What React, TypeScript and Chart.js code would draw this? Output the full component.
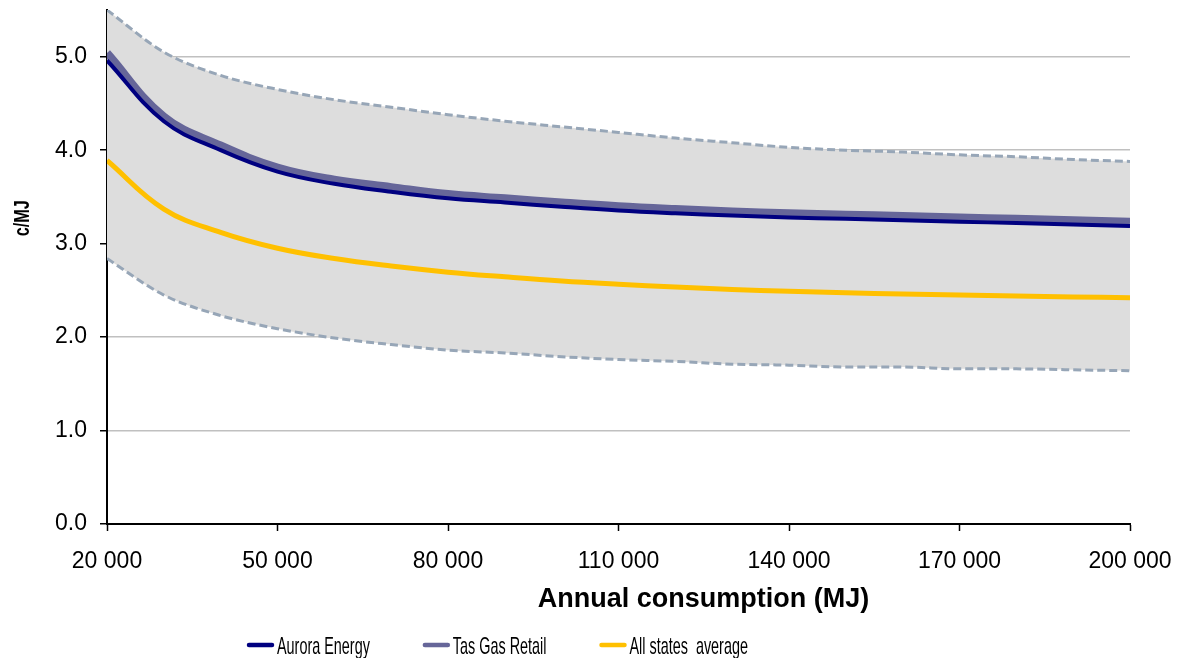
import React, { useEffect, useRef } from "react";
import { Chart, registerables } from "chart.js";

Chart.register(...registerables);

// Annual consumption (MJ)
const consumption = [
  20000, 30000, 40000, 50000, 60000, 70000, 80000, 90000, 100000, 110000,
  120000, 130000, 140000, 150000, 160000, 170000, 180000, 190000, 200000,
];
// c/MJ
const auroraEnergy = [
  4.96, 4.31, 4.0, 3.77, 3.64, 3.555, 3.485, 3.44, 3.395, 3.355, 3.325, 3.3,
  3.28, 3.265, 3.25, 3.235, 3.22, 3.205, 3.19,
];
const tasGasRetail = [
  5.04, 4.36, 4.05, 3.815, 3.685, 3.605, 3.53, 3.485, 3.44, 3.4, 3.37,
  3.345, 3.325, 3.31, 3.295, 3.28, 3.265, 3.25, 3.235,
];
const allStatesAverage = [
  3.89, 3.37, 3.12, 2.95, 2.84, 2.76, 2.695, 2.645, 2.6, 2.565, 2.535, 2.51,
  2.49, 2.475, 2.46, 2.45, 2.44, 2.43, 2.42,
];
const rangeHigh = [
  5.5, 5.05, 4.8, 4.65, 4.54, 4.46, 4.38, 4.31, 4.25, 4.19, 4.13, 4.08, 4.03,
  4.0, 3.98, 3.95, 3.93, 3.9, 3.88,
];
const rangeLow = [
  2.84, 2.45, 2.23, 2.09, 1.99, 1.92, 1.86, 1.83, 1.79, 1.76, 1.74, 1.71, 1.7,
  1.68, 1.68, 1.66, 1.66, 1.65, 1.64,
];

const xTickValues = [20000, 50000, 80000, 110000, 140000, 170000, 200000];
const yTickValues = [0, 1, 2, 3, 4, 5];
const seriesLabels = ["Aurora Energy", "Tas Gas Retail", "All states  average"];
const xTitle = "Annual consumption (MJ)";
const yTitle = "c/MJ";

const FONT = '"Liberation Sans", Arial, Helvetica, sans-serif';

const toPoints = (ys: number[]) => consumption.map((x, i) => ({ x, y: ys[i] }));

const fmtThousands = (v: number) =>
  String(Math.round(v)).replace(/\B(?=(\d{3})+(?!\d))/g, " ");

const decorPlugin = {
  id: "decor",
  afterDraw(chart: any) {
    const ctx = chart.ctx as CanvasRenderingContext2D;
    const { left, right, top, bottom } = chart.chartArea;
    ctx.save();
    ctx.fillStyle = "#000";

    // x axis title
    ctx.font = `bold 27px ${FONT}`;
    ctx.textAlign = "center";
    ctx.textBaseline = "alphabetic";
    ctx.fillText(xTitle, left + (right - left) * 0.583, 607);

    // y axis title (rotated, slightly condensed)
    ctx.save();
    ctx.translate(29, top + (bottom - top) * 0.405);
    ctx.rotate(-Math.PI / 2);
    ctx.scale(0.74, 1);
    ctx.font = `bold 22px ${FONT}`;
    ctx.textAlign = "center";
    ctx.textBaseline = "alphabetic";
    ctx.fillText(yTitle, 0, 0);
    ctx.restore();

    // legend
    const datasets = chart.data.datasets;
    let x = 247;
    const lineY = 645;
    const textScale = 0.6;
    ctx.font = `24px ${FONT}`;
    ctx.textAlign = "left";
    ctx.textBaseline = "alphabetic";
    for (let i = 0; i < seriesLabels.length; i++) {
      const ds = datasets[i];
      ctx.save();
      ctx.strokeStyle = ds.borderColor;
      ctx.lineWidth = 4.5;
      ctx.lineCap = "round";
      ctx.beginPath();
      ctx.moveTo(x + 2, lineY);
      ctx.lineTo(x + 25, lineY);
      ctx.stroke();
      ctx.restore();
      const tx = x + 30;
      const w = ctx.measureText(seriesLabels[i]).width * textScale;
      ctx.save();
      ctx.translate(tx, 654);
      ctx.scale(textScale, 1);
      ctx.fillText(seriesLabels[i], 0, 0);
      ctx.restore();
      x = tx + w + 53;
    }
    ctx.restore();
  },
};

export default function App() {
  const canvasRef = useRef<HTMLCanvasElement | null>(null);

  useEffect(() => {
    if (!canvasRef.current) return;
    const chart = new Chart(canvasRef.current, {
      type: "line",
      data: {
        datasets: [
          {
            label: seriesLabels[0],
            data: toPoints(auroraEnergy),
            borderColor: "#000080",
            backgroundColor: "#000080",
            borderWidth: 4,
            pointRadius: 0,
            fill: false,
            tension: 0.4,
          },
          {
            label: seriesLabels[1],
            data: toPoints(tasGasRetail),
            borderColor: "#666699",
            backgroundColor: "#666699",
            borderWidth: 8,
            pointRadius: 0,
            fill: false,
            tension: 0.4,
          },
          {
            label: seriesLabels[2],
            data: toPoints(allStatesAverage),
            borderColor: "#FFC000",
            backgroundColor: "#FFC000",
            borderWidth: 5,
            pointRadius: 0,
            fill: false,
            tension: 0.4,
          },
          {
            label: "",
            data: toPoints(rangeHigh),
            borderColor: "#97A6B7",
            backgroundColor: "#DDDDDD",
            borderWidth: 3,
            borderDash: [8, 4],
            pointRadius: 0,
            fill: { target: 4 },
            cubicInterpolationMode: "monotone",
          },
          {
            label: "",
            data: toPoints(rangeLow),
            borderColor: "#97A6B7",
            backgroundColor: "#DDDDDD",
            borderWidth: 3,
            borderDash: [8, 4],
            pointRadius: 0,
            fill: false,
            cubicInterpolationMode: "monotone",
          },
        ],
      },
      options: {
        animation: false,
        responsive: true,
        maintainAspectRatio: false,
        layout: { padding: { top: 10, right: 59, left: 0, bottom: 0 } },
        plugins: {
          legend: { display: false },
          tooltip: { enabled: false },
          filler: { drawTime: "beforeDatasetsDraw" },
        },
        scales: {
          x: {
            type: "linear",
            min: 20000,
            max: 200000,
            afterBuildTicks: (scale: any) => {
              scale.ticks = xTickValues.map((v) => ({ value: v }));
            },
            afterFit: (scale: any) => {
              scale.height = 134;
              scale.paddingLeft = 0;
              scale.paddingRight = 0;
            },
            border: { color: "#000", width: 2 },
            grid: {
              drawOnChartArea: false,
              drawTicks: true,
              tickLength: 7,
              tickColor: "#000",
              tickWidth: 1.5,
            },
            ticks: {
              color: "#000",
              font: { family: FONT, size: 23 },
              padding: 17,
              maxRotation: 0,
              autoSkip: false,
              callback: (v: any) => fmtThousands(Number(v)),
            },
          },
          y: {
            type: "linear",
            min: 0,
            max: 5.5,
            afterBuildTicks: (scale: any) => {
              scale.ticks = yTickValues.map((v) => ({ value: v }));
            },
            afterFit: (scale: any) => {
              scale.width = 107;
              scale.paddingTop = 0;
              scale.paddingBottom = 0;
            },
            border: { color: "#000", width: 2 },
            grid: {
              color: "#C0C0C0",
              lineWidth: 1.5,
              drawTicks: true,
              tickLength: 7,
              tickColor: "#000",
              tickWidth: 1.5,
            },
            ticks: {
              color: "#000",
              font: { family: FONT, size: 23 },
              padding: 13,
              callback: (v: any) => Number(v).toFixed(1),
            },
          },
        },
      },
      plugins: [decorPlugin],
    } as any);
    return () => chart.destroy();
  }, []);

  return (
    <div
      style={{
        position: "absolute",
        left: 0,
        top: 0,
        width: 1189,
        height: 658,
        background: "#fff",
      }}
    >
      <canvas ref={canvasRef} />
    </div>
  );
}
